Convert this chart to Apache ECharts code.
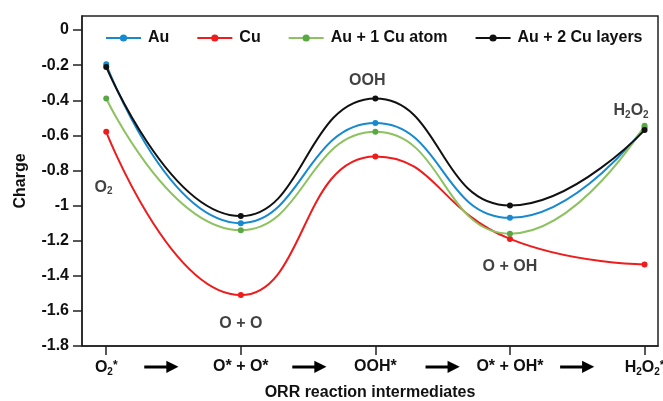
<!DOCTYPE html>
<html>
<head>
<meta charset="utf-8">
<script src="https://cdn.jsdelivr.net/npm/echarts@6/dist/echarts.min.js"></script>
<style>
  html, body { margin: 0; padding: 0; background: #fff; }
  #chart { width: 663px; height: 401px; }
</style>
</head>
<body>
<div id="chart"></div>
<script>
// reaction steps along the x axis
const steps = ['O{sub|2}{sup|*}', 'O* + O*', 'OOH*', 'O* + OH*', 'H{sub|2}O{sub|2}{sup|*}']
const stepPos = [0, 1, 2, 3, 4]
const arrowPos = [0.41, 1.51, 2.5, 3.5]
const yTicks = [0, -0.2, -0.4, -0.6, -0.8, -1, -1.2, -1.4, -1.6, -1.8]

// charge values
const au = [-0.195, -1.10, -0.53, -1.07, -0.555]
const cu = [-0.58, -1.51, -0.72, -1.19, -1.335]
const au1Cu = [-0.39, -1.14, -0.58, -1.16, -0.545]
const au2Cu = [-0.21, -1.06, -0.39, -1.00, -0.57]

// text labels inside the plot: [x, y, text]
const notes = [
  [-0.02, -0.895, 'O{sub|2}'],
  [1, -1.67, 'O + O'],
  [1.94, -0.29, 'OOH'],
  [3, -1.35, 'O + OH'],
  [3.9, -0.46, 'H{sub|2}O{sub|2}']
]

const font = '"Liberation Sans", Arial, sans-serif'
const rich = {
  sub: { fontSize: 10, fontWeight: 'bold', color: '#111', padding: [8, 0, 0, 0], fontFamily: font },
  sup: { fontSize: 12, fontWeight: 'bold', color: '#111', padding: [0, 0, 4, 0], fontFamily: font },
  shaft: { width: 24, height: 3, backgroundColor: '#000', verticalAlign: 'middle' },
  head: { fontSize: 16, color: '#000', fontFamily: 'DejaVu Sans', verticalAlign: 'middle', padding: [0, 0, 0, -2] }
}

function line(name, data, color, legendColor) {
  return {
    name: name,
    type: 'line',
    smooth: 0.5,
    data: data.map((v, i) => [stepPos[i], v]),
    symbol: 'circle',
    symbolSize: 6,
    lineStyle: { color: color, width: 2 },
    itemStyle: { color: legendColor || color },
    z: 3
  }
}

const axisStyle = { color: '#222', width: 1.5 }

const chart = echarts.init(document.getElementById('chart'))
chart.setOption({
  animation: false,
  textStyle: { fontFamily: font },
  grid: {
    left: 82, right: 5, top: 16, bottom: 55,
    outerBoundsMode: 'none',
    show: true, borderColor: '#222', borderWidth: 1.5, backgroundColor: 'transparent'
  },
  legend: {
    top: 25, left: 100,
    itemWidth: 35, itemHeight: 9, itemGap: 27,
    textStyle: { fontSize: 16, fontWeight: 'bold', color: '#111', fontFamily: font, padding: [0, 0, 0, 2] },
    data: ['Au', 'Cu', 'Au + 1 Cu atom', 'Au + 2 Cu layers']
  },
  xAxis: {
    type: 'value',
    min: -0.18, max: 4.1,
    splitLine: { show: false },
    axisLine: { show: true, onZero: false, lineStyle: axisStyle },
    axisTick: { show: true, length: 9, customValues: stepPos, lineStyle: axisStyle },
    axisLabel: {
      customValues: stepPos.concat(arrowPos),
      margin: 13,
      fontSize: 16, fontWeight: 'bold', color: '#111',
      formatter: v => {
        const i = stepPos.indexOf(v)
        return i >= 0 ? steps[i] : '{shaft| }{head|▶}'
      },
      rich: rich
    },
    name: 'ORR reaction intermediates',
    nameLocation: 'middle',
    nameGap: 39,
    nameMoveOverlap: false,
    nameTextStyle: { fontSize: 16, fontWeight: 'bold', color: '#111' }
  },
  yAxis: {
    type: 'value',
    min: -1.8, max: 0.08,
    splitLine: { show: false },
    axisLine: { show: true, onZero: false, lineStyle: axisStyle },
    axisTick: { show: true, length: 9, customValues: yTicks, lineStyle: axisStyle },
    axisLabel: {
      customValues: yTicks,
      margin: 13,
      fontSize: 16, fontWeight: 'bold', color: '#111',
      formatter: v => String(Math.round(v * 10) / 10)
    },
    name: 'Charge',
    nameLocation: 'middle',
    nameGap: 53,
    nameMoveOverlap: false,
    nameTextStyle: { fontSize: 16, fontWeight: 'bold', color: '#111' }
  },
  series: [
    line('Au', au, '#1789cf'),
    line('Cu', cu, '#ee1c1c'),
    line('Au + 1 Cu atom', au1Cu, '#8cc260', '#5aa845'),
    line('Au + 2 Cu layers', au2Cu, '#111111'),
    {
      type: 'scatter',
      data: notes.map(n => [n[0], n[1], n[2]]),
      symbolSize: 0,
      silent: true,
      label: {
        show: true,
        position: 'inside',
        formatter: p => p.value[2],
        fontSize: 16, fontWeight: 'bold', color: '#111',
        rich: rich
      },
      z: 5
    }
  ]
})
</script>
</body>
</html>
